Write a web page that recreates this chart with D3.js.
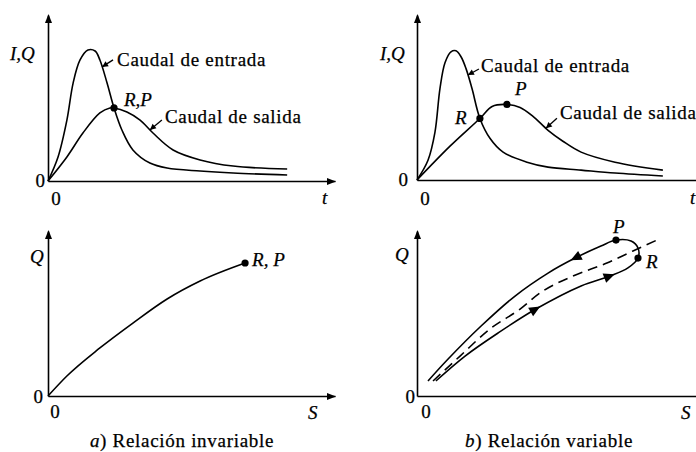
<!DOCTYPE html>
<html>
<head>
<meta charset="utf-8">
<script src="https://cdn.jsdelivr.net/npm/d3@7"></script>
<style>
  html, body { margin: 0; padding: 0; background: #fff; }
  svg { display: block; }
  text { font-family: "Liberation Serif", "Times New Roman", serif; fill: #000; stroke: #000; stroke-width: 0.25px; }
</style>
</head>
<body>
<svg id="chart" width="696" height="452"></svg>
<script>
// ---------- a) Relación invariable: hidrogramas ----------
const tInA  = [0, 0.42, 0.79, 1.05, 1.34, 1.67, 1.97, 2.17, 2.47, 2.76, 3.09, 3.55, 4.26, 4.98, 6.36, 7.74, 10.0];
const qInA  = [0, 1.45, 3.67, 5.90, 7.29, 7.89, 7.83, 7.29, 5.90, 4.40, 3.07, 1.87, 1.08, 0.78, 0.60, 0.48, 0.36];
const tOutA = [0, 0.79, 1.46, 2.17, 2.59, 2.76, 3.30, 3.85, 4.39, 5.23, 6.36, 7.74, 10.0];
const qOutA = [0, 1.45, 2.89, 4.10, 4.40, 4.40, 4.16, 3.67, 2.89, 1.87, 1.27, 0.90, 0.72];
const rpIdxA = 5;            // R = P: cruce de los hidrogramas (índice en tOutA)

// ---------- b) Relación variable: hidrogramas ----------
const tInB  = [0, 0.46, 0.75, 0.96, 1.17, 1.42, 1.63, 1.84, 2.05, 2.30, 2.63, 3.05, 3.60, 4.60, 5.48, 6.86, 8.28, 10.28];
const qInB  = [0, 1.20, 2.89, 5.54, 7.11, 7.77, 7.83, 7.47, 6.75, 5.54, 3.73, 2.53, 1.69, 1.08, 0.78, 0.60, 0.42, 0.24];
const tOutB = [0, 1.38, 2.63, 3.14, 3.76, 4.31, 4.85, 5.48, 6.10, 6.86, 8.28, 10.28];
const qOutB = [0, 2.05, 3.73, 4.46, 4.58, 4.40, 3.86, 3.01, 2.35, 1.69, 1.08, 0.60];
const rIdxB = 2, pIdxB = 4;  // índices en tOutB

// ---------- a) Almacenamiento - caudal (invariable) ----------
const sA  = [0, 0.79, 2.17, 3.55, 4.98, 6.36, 8.24];
const qSA = [0, 1.21, 2.91, 4.42, 5.88, 6.97, 8.06];

// ---------- b) Almacenamiento - caudal (lazo) ----------
const sLoop = [0.79, 2.01, 3.39, 4.97, 6.86, 8.07, 8.82, 9.24, 9.24, 8.95, 8.32, 7.69, 6.61, 5.48, 4.10, 2.68, 1.30, 0.46];
const qLoop = [0.91, 2.42, 3.82, 5.27, 6.67, 7.27, 7.76, 8.36, 8.97, 9.39, 9.45, 9.09, 8.36, 7.45, 6.06, 4.24, 2.24, 0.91];
const rIdxLoop = 7, pIdxLoop = 10;
const loopArrowIdx = [3, 5, 12];
const sDash = [0.67, 1.80, 3.05, 4.31, 5.14, 6.52, 7.94, 9.03, 10.03];
const qDash = [0.91, 2.42, 4.06, 5.27, 6.24, 7.27, 8.06, 8.79, 9.45];

// ---------- textos ----------
const labelInflow  = "Caudal de entrada";
const labelOutflow = "Caudal de salida";
const captionA = ["a", ") Relación invariable"];
const captionB = ["b", ") Relación variable"];

const svg = d3.select("#chart");
const STROKE = 1.6;

function panel(x0, y0, x1, y1) {
  return {
    x: d3.scaleLinear().domain([0, 12]).range([x0, x1]),
    y: d3.scaleLinear().domain([0, 10]).range([y0, y1])
  };
}
const pA = panel(48, 181, 335, 15);
const pB = panel(417, 180, 704, 15);
const pC = panel(48, 396, 335, 231);
const pD = panel(417, 396, 704, 231);

function tri(g, x, y, angleDeg, len, half) {
  g.append("path")
    .attr("d", `M0,0L${-len},${-half}L${-len},${half}Z`)
    .attr("transform", `translate(${x},${y}) rotate(${angleDeg})`)
    .attr("fill", "#000");
}

function axes(p) {
  const g = svg.append("g");
  g.append("g").attr("transform", `translate(0,${p.y(0)})`)
    .call(d3.axisBottom(p.x).tickValues([]).tickSizeOuter(0));
  g.append("g").attr("transform", `translate(${p.x(0)},0)`)
    .call(d3.axisLeft(p.y).tickValues([]).tickSizeOuter(0));
  g.selectAll(".domain").attr("stroke", "#000").attr("stroke-width", STROKE);
  tri(g, p.x.range()[1] + 1, p.y(0) + 0.5, 0, 9, 3.5);
  tri(g, p.x(0) + 0.5, p.y.range()[1] - 1, -90, 9, 3.5);
  return g;
}

function txt(x, y, s, opts = {}) {
  return svg.append("text")
    .attr("x", x).attr("y", y)
    .attr("font-size", opts.size || 19)
    .attr("font-style", opts.italic ? "italic" : "normal")
    .attr("text-anchor", opts.anchor || "start")
    .attr("letter-spacing", opts.ls != null ? opts.ls : 0)
    .text(s);
}

function curve(p, xs, ys, curveType, dash) {
  const pts = xs.map((v, i) => [v, ys[i]]);
  return svg.append("path")
    .datum(pts)
    .attr("d", d3.line().x(d => p.x(d[0])).y(d => p.y(d[1])).curve(curveType)(pts))
    .attr("fill", "none")
    .attr("stroke", "#000")
    .attr("stroke-width", STROKE)
    .attr("stroke-dasharray", dash || null);
}

function dot(p, xv, yv) {
  svg.append("circle").attr("cx", p.x(xv)).attr("cy", p.y(yv)).attr("r", 3.6).attr("fill", "#000");
}

function interp(xs, ys, v) {
  for (let i = 1; i < xs.length; i++) {
    if (v <= xs[i]) {
      const f = (v - xs[i - 1]) / (xs[i] - xs[i - 1]);
      return ys[i - 1] + f * (ys[i] - ys[i - 1]);
    }
  }
  return ys[ys.length - 1];
}

// pointer from a label to a hydrograph
function pointer(p, xs, ys, tv, dx, dy, label, tdx, tdy) {
  const tipX = p.x(tv), tipY = p.y(interp(xs, ys, tv));
  const tailX = tipX + dx, tailY = tipY + dy;
  svg.append("line").attr("x1", tailX).attr("y1", tailY).attr("x2", tipX).attr("y2", tipY)
    .attr("stroke", "#000").attr("stroke-width", 1.3);
  const ang = Math.atan2(tipY - tailY, tipX - tailX) * 180 / Math.PI;
  tri(svg, tipX, tipY, ang, 6, 3);
  txt(tailX + tdx, tailY + tdy, label, { ls: 0.7 });
}

const cr = d3.curveCatmullRom.alpha(0.5);

// ===== Panel a) superior =====
axes(pA);
curve(pA, tInA, qInA, cr);
curve(pA, tOutA, qOutA, cr);
dot(pA, tOutA[rpIdxA], qOutA[rpIdxA]);
txt(10, 60, "I,Q", { italic: true });
txt(45, 187, "0", { anchor: "end" });
txt(56, 205, "0", { anchor: "middle" });
txt(322, 204, "t", { italic: true });
txt(pA.x(tOutA[rpIdxA]) + 10, pA.y(qOutA[rpIdxA]) - 2, "R,P", { italic: true });
pointer(pA, tInA, qInA, 2.26, 11, -7, labelInflow, 4, 6);
pointer(pA, tOutA, qOutA, 4.26, 12, -10, labelOutflow, 3, 3);

// ===== Panel b) superior =====
axes(pB);
curve(pB, tInB, qInB, cr);
curve(pB, tOutB, qOutB, cr);
dot(pB, tOutB[rIdxB], qOutB[rIdxB]);
dot(pB, tOutB[pIdxB], qOutB[pIdxB]);
txt(380, 60, "I,Q", { italic: true });
txt(408, 186, "0", { anchor: "end" });
txt(425, 205, "0", { anchor: "middle" });
txt(pB.x.range()[1] - 14, 204, "t", { italic: true });
txt(pB.x(tOutB[rIdxB]) - 25, pB.y(qOutB[rIdxB]) + 6, "R", { italic: true });
txt(pB.x(tOutB[pIdxB]) + 8, pB.y(qOutB[pIdxB]) - 9, "P", { italic: true });
pointer(pB, tInB, qInB, 2.13, 11, -6, labelInflow, 2, 3);
pointer(pB, tOutB, qOutB, 5.39, 11, -10, labelOutflow, 3, 1);

// ===== Panel a) inferior =====
axes(pC);
curve(pC, sA, qSA, d3.curveMonotoneX);
dot(pC, sA[sA.length - 1], qSA[qSA.length - 1]);
txt(30, 263, "Q", { italic: true });
txt(43, 403, "0", { anchor: "end" });
txt(55, 418, "0", { anchor: "middle" });
txt(308, 419, "S", { italic: true });
txt(pC.x(sA[sA.length - 1]) + 7, pC.y(qSA[qSA.length - 1]) + 3, "R, P", { italic: true });

// ===== Panel b) inferior =====
axes(pD);
curve(pD, sDash, qDash, d3.curveMonotoneX, "10,6");
curve(pD, sLoop, qLoop, cr);
dot(pD, sLoop[rIdxLoop], qLoop[rIdxLoop]);
dot(pD, sLoop[pIdxLoop], qLoop[pIdxLoop]);
loopArrowIdx.forEach(i => {
  const x0 = pD.x(sLoop[i - 1]), y0 = pD.y(qLoop[i - 1]);
  const x1 = pD.x(sLoop[i + 1]), y1 = pD.y(qLoop[i + 1]);
  const a = Math.atan2(y1 - y0, x1 - x0);
  tri(svg, pD.x(sLoop[i]) + 5 * Math.cos(a), pD.y(qLoop[i]) + 5 * Math.sin(a), a * 180 / Math.PI, 11, 5);
});
txt(395, 261, "Q", { italic: true });
txt(415, 403, "0", { anchor: "end" });
txt(426, 418, "0", { anchor: "middle" });
txt(681, 419, "S", { italic: true });
txt(pD.x(sLoop[pIdxLoop]) - 3, pD.y(qLoop[pIdxLoop]) - 7, "P", { italic: true });
txt(pD.x(sLoop[rIdxLoop]) + 8, pD.y(qLoop[rIdxLoop]) + 10, "R", { italic: true });

// ===== Leyendas inferiores =====
function caption(cx, parts) {
  const t = svg.append("text").attr("x", cx).attr("y", 447).attr("font-size", 19)
    .attr("text-anchor", "middle").attr("letter-spacing", 0.7);
  t.append("tspan").attr("font-style", "italic").text(parts[0]);
  t.append("tspan").text(parts[1]);
}
caption(182, captionA);
caption(549, captionB);
</script>
</body>
</html>
